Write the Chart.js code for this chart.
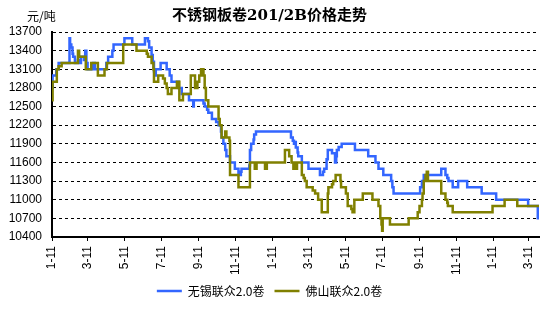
<!DOCTYPE html>
<html>
<head>
<meta charset="utf-8">
<script src="https://cdn.jsdelivr.net/npm/chart.js@4"></script>
<style>
  html, body { margin: 0; padding: 0; background: #fff; }
  #wrap { width: 555px; height: 309px; }
</style>
</head>
<body>
<div id="wrap"><canvas id="priceChart" width="555" height="309"></canvas></div>
<script>
// x axis: days counted from the first 1-11 tick
const tickDays = [0, 59, 120, 181, 243, 304, 365, 425, 486, 547, 609, 670, 731, 790];
const tickLabels = ["1-11", "3-11", "5-11", "7-11", "9-11", "11-11", "1-11", "3-11", "5-11", "7-11", "9-11", "11-11", "1-11", "3-11"];
const lastDay = 807;

// 无锡联众2.0卷 - day of each price change and new price
const wuxiDays = [0, 1, 7, 11, 29, 30, 32, 34, 35, 38, 43, 46, 48, 53, 55, 57, 59, 68, 71, 90,
  93, 100, 102, 120, 133, 154, 159, 161, 165, 167, 169, 170, 172, 180, 190, 195, 198, 210, 215, 227,
  234, 235, 251, 253, 257, 259, 265, 272, 276, 280, 281, 284, 287, 289, 295, 303, 309, 313, 314, 327,
  328, 330, 334, 335, 338, 396, 399, 401, 403, 404, 407, 408, 414, 425, 444, 449, 451, 455, 457, 464,
  469, 471, 472, 475, 480, 502, 524, 536, 541, 549, 562, 564, 566, 610, 613, 616, 645, 652, 655, 657,
  664, 673, 688, 712, 736, 789, 805, 807];
const wuxiPrices = [12800, 13000, 13100, 13200, 13600, 13500, 13450, 13350, 13300, 13200, 13250, 13200, 13300, 13250, 13400, 13200, 13100, 13200, 13100, 13200,
  13300, 13400, 13500, 13600, 13500, 13600, 13550, 13450, 13330, 13220, 13070, 13000, 13100, 13200, 13100, 13000, 12900, 12800, 12700, 12600,
  12500, 12600, 12550, 12500, 12450, 12400, 12300, 12250, 12200, 12100, 12000, 11900, 11800, 11700, 11600, 11500, 11400, 11450, 11500, 11550,
  11800, 11900, 11970, 12050, 12100, 12000, 11950, 11900, 11930, 11840, 11760, 11700, 11600, 11500, 11400, 11450, 11500, 11650, 11800, 11750,
  11600, 11700, 11800, 11850, 11900, 11800, 11700, 11600, 11500, 11400, 11300, 11200, 11100, 11200, 11300, 11400, 11500, 11400, 11350, 11300,
  11200, 11300, 11200, 11100, 11000, 10900, 10700, 10700];

// 佛山联众2.0卷
const foshanDays = [0, 1, 8, 11, 16, 43, 45, 56, 65, 76, 87, 91, 118, 140, 157, 159, 165, 168, 169, 176,
  184, 187, 190, 192, 198, 207, 211, 217, 230, 237, 241, 244, 247, 251, 253, 255, 259, 276, 278, 281,
  287, 289, 294, 295, 309, 328, 336, 339, 353, 356, 386, 393, 397, 400, 401, 403, 406, 414, 417, 419,
  422, 432, 436, 441, 447, 457, 458, 464, 466, 470, 478, 479, 487, 490, 496, 498, 501, 515, 531, 541,
  544, 546, 547, 548, 560, 591, 606, 609, 613, 614, 616, 619, 621, 623, 645, 652, 655, 656, 664, 730,
  750, 771, 807];
const foshanPrices = [12600, 12900, 13100, 13150, 13200, 13400, 13300, 13100, 13200, 13000, 13100, 13200, 13500, 13400, 13350, 13300, 13200, 13100, 12900, 13000,
  12950, 12870, 12800, 12700, 12800, 12900, 12600, 12700, 13000, 12800, 12900, 13000, 13100, 13000, 12800, 12600, 12500, 12300, 12200, 12000,
  12100, 12000, 11950, 11400, 11200, 11600, 11500, 11600, 11500, 11600, 11800, 11700, 11600, 11500, 11600, 11500, 11600, 11400, 11350, 11300,
  11200, 11150, 11100, 11000, 10800, 11100, 11200, 11250, 11300, 11400, 11300, 11200, 11100, 10900, 10850, 10800, 11000, 11100, 11000, 10900,
  10700, 10600, 10500, 10700, 10600, 10700, 10800, 10900, 11000, 11100, 11300, 11400, 11450, 11300, 11100, 11000, 10950, 10900, 10800, 10900,
  11000, 10900, 10900];

function toPoints(days, prices) {
  return days.map((d, i) => ({ x: d, y: prices[i] }));
}

// unit label in the top left corner
const unitLabel = {
  id: "unitLabel",
  afterDraw(chart) {
    const ctx = chart.ctx;
    ctx.save();
    ctx.font = "12px 'Noto Sans CJK SC'";
    ctx.fillStyle = "#000";
    ctx.textBaseline = "middle";
    ctx.fillText("元/吨", 27, 16);
    ctx.restore();
  }
};

Chart.defaults.color = "#000";
Chart.defaults.font.family = "'Liberation Sans', 'Noto Sans CJK SC'";
Chart.defaults.font.size = 12;

new Chart(document.getElementById("priceChart"), {
  type: "line",
  data: {
    datasets: [
      {
        label: "佛山联众2.0卷",
        data: toPoints(foshanDays, foshanPrices),
        borderColor: "#808000",
        backgroundColor: "#808000",
        borderWidth: 2.5,
        pointRadius: 0,
        stepped: true,
        fill: false
      },
      {
        label: "无锡联众2.0卷",
        data: toPoints(wuxiDays, wuxiPrices),
        borderColor: "#3366ff",
        backgroundColor: "#3366ff",
        borderWidth: 2.5,
        pointRadius: 0,
        stepped: true,
        fill: false
      }
    ]
  },
  options: {
    responsive: false,
    animation: false,
    layout: { padding: { left: 0, right: 16, top: 0, bottom: 2 } },
    plugins: {
      title: {
        display: true,
        text: "不锈钢板卷201/2B价格走势",
        font: { family: "'DejaVu Serif', 'Noto Sans CJK SC'", size: 15, weight: "bold" },
        padding: { top: 7, bottom: 7 }
      },
      legend: {
        position: "bottom",
        reverse: true,
        labels: {
          usePointStyle: true,
          pointStyle: "line",
          pointStyleWidth: 25,
          padding: 10,
          font: { family: "'Noto Sans CJK SC'", size: 12 }
        }
      },
      tooltip: { enabled: false }
    },
    scales: {
      x: {
        type: "linear",
        min: 0,
        max: lastDay,
        afterBuildTicks: scale => {
          scale.ticks = tickDays.map(d => ({ value: d }));
        },
        afterFit: scale => { scale.height = 38; },
        ticks: {
          autoSkip: false,
          minRotation: 90,
          maxRotation: 90,
          padding: 5,
          callback: (value, index) => tickLabels[index]
        },
        grid: {
          drawOnChartArea: false,
          drawTicks: true,
          tickLength: 4,
          color: "#000"
        },
        border: { display: true, color: "#000", width: 2 }
      },
      y: {
        min: 10400,
        max: 13700,
        afterFit: scale => { scale.width = 52; },
        ticks: {
          stepSize: 300,
          padding: 10,
          callback: value => String(value)
        },
        grid: { drawTicks: false, color: "#000", lineWidth: 1 },
        border: { display: true, color: "#000", width: 2, dash: [3, 3] }
      }
    }
  },
  plugins: [unitLabel]
});
</script>
</body>
</html>
